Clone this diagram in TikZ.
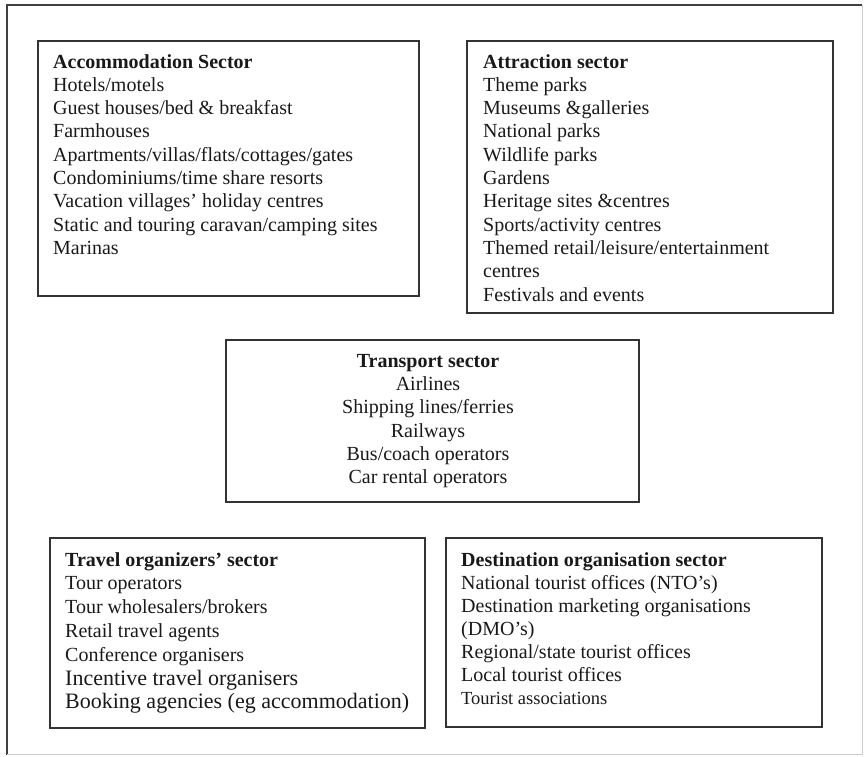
\documentclass[tikz,border=0pt]{standalone}
\usepackage{fontspec}
\setmainfont{Liberation Serif}
\begin{document}
\begin{tikzpicture}[x=1pt,y=-1pt,
  sbox/.style={draw=black!80, line width=1.2pt, inner sep=0pt, anchor=north west},
  stext/.style={inner sep=0pt, anchor=north west, align=left, text=black!90,
    font=\fontsize{20}{23.3}\selectfont},
  ctext/.style={inner sep=0pt, anchor=north, align=center, text=black!90,
    font=\fontsize{20}{23.3}\selectfont}]
\useasboundingbox (0,0) rectangle (864,756);
% outer frame
\draw[black!75, line width=1.2pt] (7,755) -- (7,5) -- (862,5);
\draw[black!20, line width=0.8pt] (862,5) -- (862,754) -- (7,754);
% boxes
\path (38,41) coordinate (accA) (419,296) coordinate (accB);
\draw[sbox] (accA) rectangle (accB);
\node[stext] (acc) at (53,54) {\textbf{Accommodation Sector}\\
Hotels/motels\\
Guest houses/bed \& breakfast\\
Farmhouses\\
Apartments/villas/flats/cottages/gates\\
Condominiums/time share resorts\\
Vacation villages’ holiday centres\\
Static and touring caravan/camping sites\\
Marinas};
\path (467,41) coordinate (attA) (833,313) coordinate (attB);
\draw[sbox] (attA) rectangle (attB);
\node[stext] (att) at (483,54) {\textbf{Attraction sector}\\
Theme parks\\
Museums \&galleries\\
National parks\\
Wildlife parks\\
Gardens\\
Heritage sites \&centres\\
Sports/activity centres\\
Themed retail/leisure/entertainment\\
centres\\
Festivals and events};
\path (226,340) coordinate (trA) (639,502) coordinate (trB);
\draw[sbox] (trA) rectangle (trB);
\node[ctext] (tr) at (428,354) {\textbf{Transport sector}\\
Airlines\\
Shipping lines/ferries\\
Railways\\
Bus/coach operators\\
Car rental operators};
\path (50,538) coordinate (toA) (425,728) coordinate (toB);
\draw[sbox] (toA) rectangle (toB);
\node[stext, font=\fontsize{20}{23.8}\selectfont] (to) at (65,552) {\textbf{Travel organizers’ sector}\\
Tour operators\\
Tour wholesalers/brokers\\
Retail travel agents\\
Conference organisers\\
{\fontsize{22}{23.8}\selectfont Incentive travel organisers}\\
{\fontsize{22}{23.8}\selectfont Booking agencies (eg accommodation)}};
\path (446,538) coordinate (doA) (822,727) coordinate (doB);
\draw[sbox] (doA) rectangle (doB);
\node[stext, font=\fontsize{20}{23}\selectfont] (do) at (461,552) {\textbf{Destination organisation sector}\\
National tourist offices (NTO’s)\\
Destination marketing organisations\\
(DMO’s)\\
Regional/state tourist offices\\
Local tourist offices\\
{\fontsize{18.5}{23}\selectfont Tourist associations}};
\end{tikzpicture}
\end{document}
